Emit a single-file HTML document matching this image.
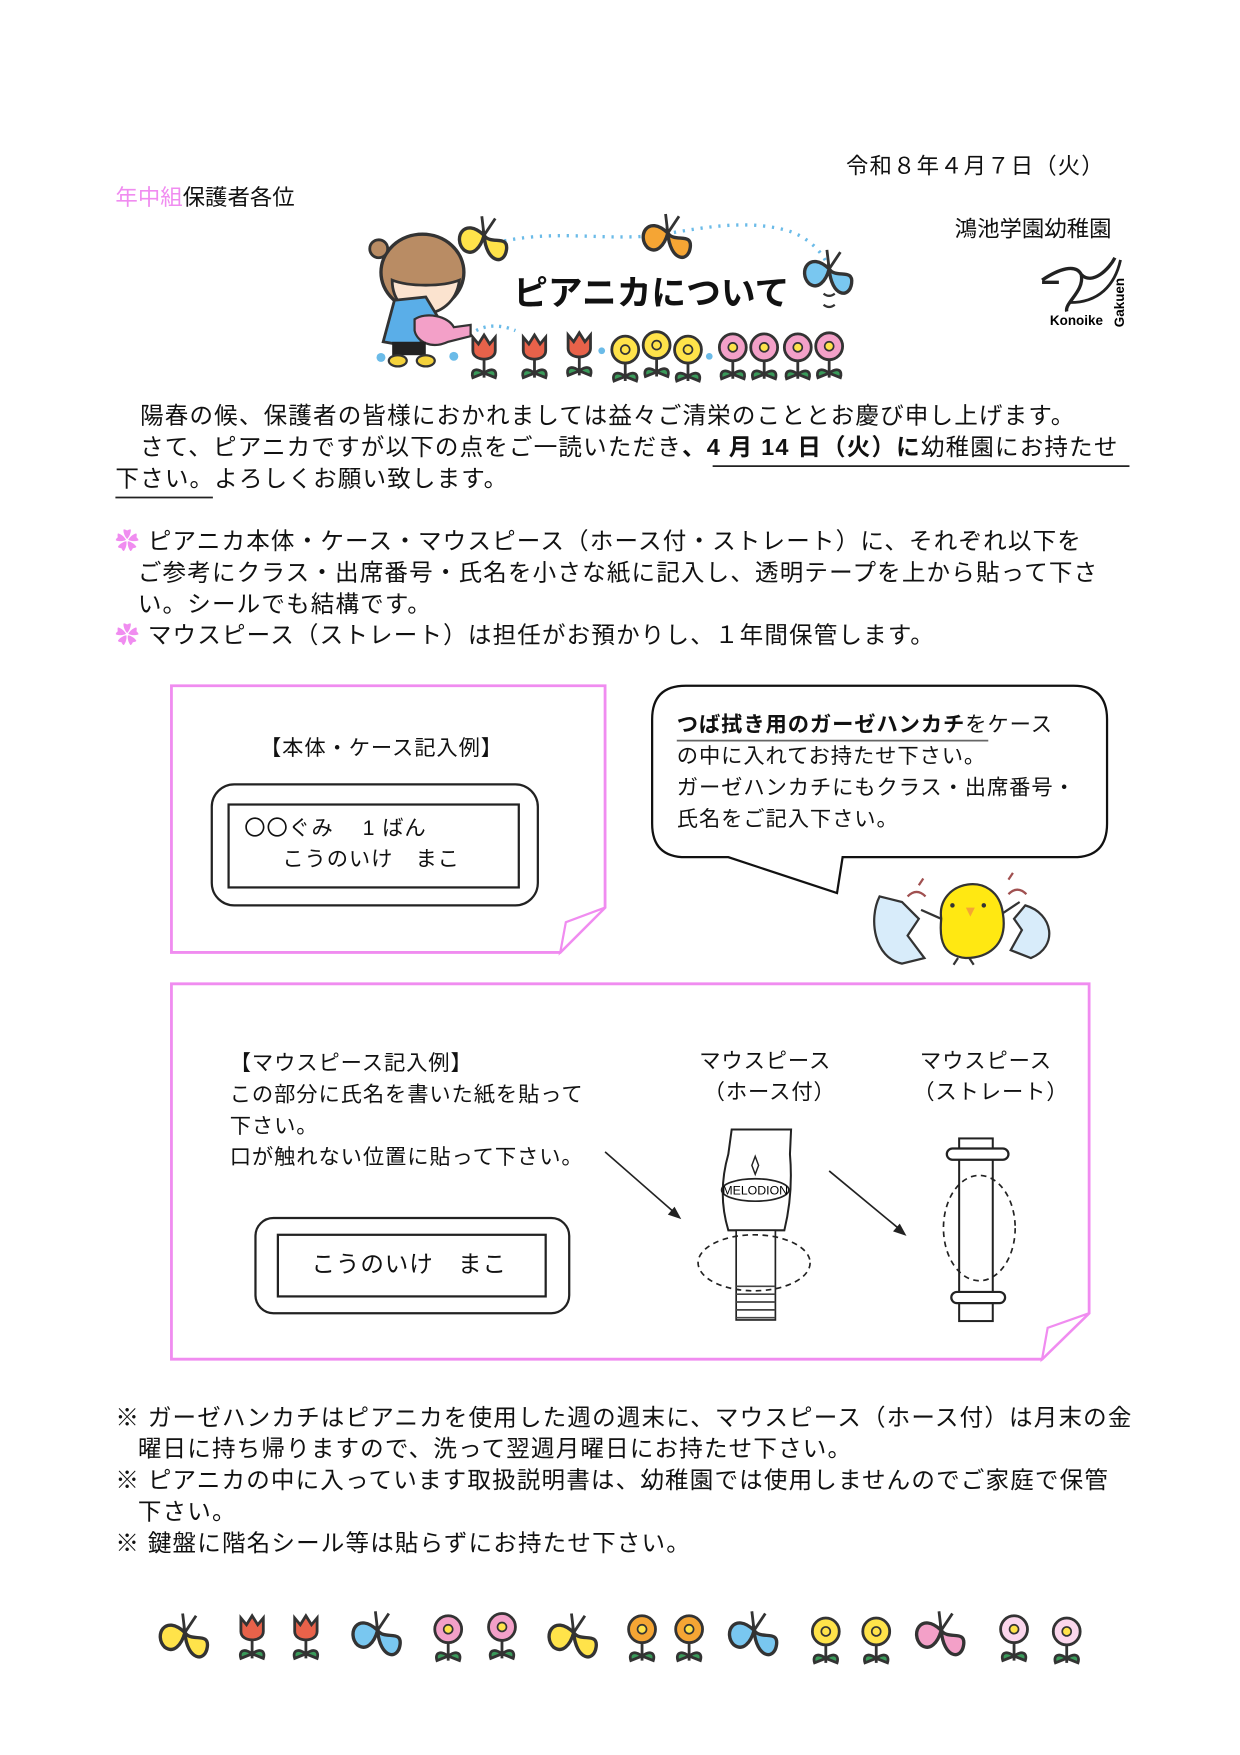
<!DOCTYPE html>
<html><head><meta charset="utf-8"><style>
html,body{margin:0;padding:0;background:#fff;}
#w{position:relative;width:1240px;height:1755px;overflow:hidden;}
#p{position:absolute;left:0;top:0;width:1100px;height:1557px;transform:scale(1.1205);transform-origin:0 0;font-family:"Liberation Sans","Noto Sans CJK JP",sans-serif;color:#111;}
.t{position:absolute;white-space:nowrap;font-size:21px;letter-spacing:1.05px;line-height:28px;}
.s{font-size:19px;letter-spacing:0.8px;}
svg{position:absolute;left:0;top:0;}
</style></head><body><div id="w"><div id="p">
<svg width="1100" height="1557" viewBox="0 0 1100 1557">
<defs>
<g id="bf"><path d="M0,-5 C-18,-22 -28,-2 -18,8 C-10,14 -3,6 0,-5 Z M0,-5 C6,4 22,-6 20,8 C18,22 2,20 0,-5Z" stroke="#333" stroke-width="3"/><path d="M0,-5 L-2,-22 M0,-5 L10,-20" stroke="#333" stroke-width="2.5" fill="none"/></g>
<g id="tu"><path d="M0,4 L0,22 M0,18 C-8,12 -12,16 -10,22 Z M0,18 C8,12 12,16 10,22Z" stroke="#333" stroke-width="2.5" fill="#3a9a5a"/><path d="M-10,-14 L-5,-8 L0,-16 L5,-8 L10,-14 L10,-2 C10,8 -10,8 -10,-2Z" fill="#e8624a" stroke="#333" stroke-width="2.5"/></g>
<g id="fl"><path d="M0,4 L0,22 M0,18 C-8,12 -12,16 -10,22 Z M0,18 C8,12 12,16 10,22Z" stroke="#333" stroke-width="2.5" fill="#3a9a5a"/><circle r="12" stroke="#333" stroke-width="2.5" cy="-6"/><circle r="4" cy="-6" fill="#ffe34a" stroke="#333" stroke-width="1.5"/></g>
</defs>
<path d="M450,215 C500,205 540,215 585,210 C620,205 660,195 700,205 C720,210 735,225 740,240" stroke="#6bbbe8" stroke-width="3" stroke-dasharray="2 6" fill="none"/>
<use href="#bf" x="432" y="215" fill="#ffe34a"/>
<use href="#bf" x="596" y="213" fill="#f5a534"/>
<use href="#bf" x="740" y="245" fill="#79c7f0"/>
<path d="M735,262 q5,4 10,0 M735,272 q5,4 10,0" stroke="#333" stroke-width="2" fill="none"/>
<ellipse cx="377" cy="243" rx="37" ry="34" fill="#b98c64" stroke="#333" stroke-width="3"/>
<circle cx="338" cy="222" r="8" fill="#b98c64" stroke="#333" stroke-width="2.5"/>
<path d="M350,250 C350,290 405,290 410,250 C395,256 365,256 350,250Z" fill="#fbe3cf" stroke="#333" stroke-width="2.5"/>
<path d="M352,268 L342,305 L370,310 L395,290 L380,265Z" fill="#5aaee8" stroke="#333" stroke-width="2.5"/>
<path d="M370,285 C380,278 400,282 405,292 L420,290 L420,300 L400,305 C385,312 372,305 370,295Z" fill="#f3a0c8" stroke="#333" stroke-width="2"/>
<rect x="350" y="305" width="30" height="12" fill="#222"/>
<ellipse cx="355" cy="322" rx="8" ry="5" fill="#f4d23c" stroke="#333" stroke-width="2"/><ellipse cx="380" cy="322" rx="8" ry="5" fill="#f4d23c" stroke="#333" stroke-width="2"/>
<path d="M425,295 q15,-8 35,0" stroke="#6bbbe8" stroke-width="3" stroke-dasharray="2 5" fill="none"/>
<circle cx="340" cy="319" r="4" fill="#6bbbe8"/><circle cx="405" cy="318" r="4" fill="#6bbbe8"/><circle cx="537" cy="313" r="3" fill="#6bbbe8"/><circle cx="633" cy="318" r="3" fill="#6bbbe8"/>
<use href="#tu" x="432" y="315"/><use href="#tu" x="477" y="315"/><use href="#tu" x="517" y="313"/>
<use href="#fl" x="558" y="318" fill="#ffe34a"/><use href="#fl" x="586" y="314" fill="#ffe34a"/><use href="#fl" x="614" y="318" fill="#ffe34a"/>
<use href="#fl" x="654" y="316" fill="#f3a0c8"/><use href="#fl" x="682" y="316" fill="#f3a0c8"/><use href="#fl" x="712" y="316" fill="#f3a0c8"/><use href="#fl" x="740" y="315" fill="#f3a0c8"/>
<path d="M930,250 C945,240 960,235 965,245 C968,260 950,270 952,278 M965,245 C975,255 990,240 995,230 M930,252 L945,252" stroke="#222" stroke-width="3" fill="none"/>
<path d="M955,270 C980,270 995,255 1000,232" stroke="#222" stroke-width="2.5" fill="none"/>
<text x="937" y="290" font-size="12" font-weight="bold" font-family="Liberation Sans">Konoike</text>
<text x="1003" y="292" font-size="12" font-weight="bold" font-family="Liberation Sans" transform="rotate(-90 1003 292)">Gakuen</text>
<line x1="636" y1="416" x2="1008" y2="416" stroke="#222" stroke-width="1.5"/>
<line x1="103" y1="444" x2="190" y2="444" stroke="#222" stroke-width="1.5"/>
<path d="M153,612 L540,612 L540,810 L500,850 L153,850Z" fill="none" stroke="#f08cf0" stroke-width="2.5"/>
<path d="M540,810 L505,823 L500,850Z" fill="#fff" stroke="#f08cf0" stroke-width="2"/>
<rect x="189" y="700" width="291" height="108" rx="20" fill="none" stroke="#222" stroke-width="2"/>
<rect x="204" y="718" width="259" height="74" fill="none" stroke="#222" stroke-width="2"/>
<path d="M612,612 L958,612 Q988,612 988,642 L988,735 Q988,765 958,765 L752,765 L747,797 L650,765 L612,765 Q582,765 582,735 L582,642 Q582,612 612,612Z" fill="#fff" stroke="#111" stroke-width="2"/>
<line x1="604" y1="661" x2="882" y2="661" stroke="#666" stroke-width="1.5"/>
<path d="M785,800 C775,820 780,855 805,860 L825,855 L810,835 L820,820 L805,805Z" fill="#d8ecfa" stroke="#333" stroke-width="2"/>
<path d="M915,808 C940,815 945,845 920,855 L902,848 L912,830 L905,820Z" fill="#d8ecfa" stroke="#333" stroke-width="2"/>
<path d="M840,820 C835,785 890,775 895,815 C900,845 880,855 862,855 C842,853 838,840 840,820Z" fill="#ffe812" stroke="#333" stroke-width="2"/>
<path d="M840,820 L822,812 M895,815 L910,805" stroke="#333" stroke-width="2"/>
<path d="M855,855 l-4,6 M865,855 l4,6" stroke="#333" stroke-width="2"/>
<circle cx="850" cy="808" r="2" fill="#333"/><circle cx="878" cy="808" r="2" fill="#333"/><path d="M862,810 l4,8 l4,-8Z" fill="#f5a534"/>
<path d="M810,800 q8,-8 16,0 M900,798 q8,-8 16,0 M820,790 l4,-6 M900,785 l4,-6" stroke="#a05050" stroke-width="2" fill="none"/>
<path d="M153,878 L972,878 L972,1172 L930,1213 L153,1213Z" fill="none" stroke="#f08cf0" stroke-width="2.5"/>
<path d="M972,1172 L935,1185 L930,1213Z" fill="#fff" stroke="#f08cf0" stroke-width="2"/>
<rect x="228" y="1087" width="280" height="85" rx="16" fill="none" stroke="#222" stroke-width="2"/>
<rect x="248" y="1102" width="239" height="55" fill="none" stroke="#222" stroke-width="2"/>
<line x1="540" y1="1028" x2="604" y2="1084" stroke="#222" stroke-width="1.5"/><path d="M608,1088 l-12,-4 l6,-7Z" fill="#222"/>
<line x1="740" y1="1045" x2="804" y2="1098" stroke="#222" stroke-width="1.5"/><path d="M809,1103 l-12,-4 l6,-7Z" fill="#222"/>
<path d="M653,1008 L706,1008 L705,1030 Q708,1065 700,1098 L650,1098 Q640,1065 650,1030Z" fill="#fff" stroke="#222" stroke-width="1.8"/>
<ellipse cx="674" cy="1062" rx="30" ry="10" fill="none" stroke="#222" stroke-width="1.5"/>
<text x="674" y="1066" font-size="11" text-anchor="middle" font-family="Liberation Sans">MELODION</text>
<path d="M674,1032 l3,8 l-3,8 l-3,-8Z" fill="none" stroke="#222" stroke-width="1.3"/>
<rect x="657" y="1098" width="35" height="80" fill="#fff" stroke="#222" stroke-width="1.5"/>
<path d="M657,1148 h35 M657,1155 h35 M657,1162 h35 M657,1169 h35 M657,1176 h35" stroke="#444" stroke-width="1.5"/>
<ellipse cx="673" cy="1127" rx="50" ry="25" fill="none" stroke="#222" stroke-width="1.5" stroke-dasharray="5 4"/>
<rect x="856" y="1016" width="30" height="163" fill="#fff" stroke="#222" stroke-width="1.8"/>
<rect x="845" y="1025" width="55" height="10" rx="5" fill="#fff" stroke="#222" stroke-width="2"/>
<rect x="849" y="1153" width="48" height="10" rx="5" fill="#fff" stroke="#222" stroke-width="2"/>
<ellipse cx="874" cy="1096" rx="32" ry="47" fill="none" stroke="#222" stroke-width="1.5" stroke-dasharray="5 4"/>
<use href="#bf" x="165" y="1462" fill="#ffe34a"/>
<use href="#tu" x="225" y="1458"/><use href="#tu" x="273" y="1458"/>
<use href="#bf" x="337" y="1460" fill="#79c7f0"/>
<use href="#fl" x="400" y="1460" fill="#f3a0c8"/><use href="#fl" x="448" y="1458" fill="#f3a0c8"/>
<use href="#bf" x="512" y="1462" fill="#ffe34a"/>
<use href="#fl" x="573" y="1460" fill="#f5a534"/><use href="#fl" x="615" y="1460" fill="#f5a534"/>
<use href="#bf" x="673" y="1460" fill="#79c7f0"/>
<use href="#fl" x="737" y="1462" fill="#ffe34a"/><use href="#fl" x="782" y="1462" fill="#ffe34a"/>
<use href="#bf" x="840" y="1460" fill="#f3a0c8"/>
<use href="#fl" x="905" y="1460" fill="#fbd6ec"/><use href="#fl" x="952" y="1462" fill="#fbd6ec"/>
</svg>

<div class="t" style="left:755px;top:135px;font-size:20px;letter-spacing:1px;">令和８年４月７日（火）</div>
<div class="t" style="left:103px;top:163px;font-size:20px;letter-spacing:0;"><span style="color:#f08cf0">年中組</span>保護者各位</div>
<div class="t" style="left:852px;top:191px;font-size:20px;letter-spacing:0;">鴻池学園幼稚園</div>
<div class="t" style="left:458px;top:242px;font-size:31px;font-weight:bold;letter-spacing:0;line-height:40px;">ピアニカについて</div>

<div class="t" style="left:125px;top:358px;">陽春の候、保護者の皆様におかれましては益々ご清栄のこととお慶び申し上げます。</div>
<div class="t" style="left:125px;top:386px;">さて、ピアニカですが以下の点をご一読いただき<b>、4 月 14 日（火）に</b>幼稚園にお持たせ</div>
<div class="t" style="left:103px;top:414px;">下さい。よろしくお願い致します。</div>

<div class="t" style="left:103px;top:470px;"><span style="color:#f08cf0">✿</span> ピアニカ本体・ケース・マウスピース（ホース付・ストレート）に、それぞれ以下を</div>
<div class="t" style="left:123px;top:498px;">ご参考にクラス・出席番号・氏名を小さな紙に記入し、透明テープを上から貼って下さ</div>
<div class="t" style="left:123px;top:526px;">い。シールでも結構です。</div>
<div class="t" style="left:103px;top:554px;"><span style="color:#f08cf0">✿</span> マウスピース（ストレート）は担任がお預かりし、１年間保管します。</div>

<div class="t s" style="left:232px;top:655px;">【本体・ケース記入例】</div>
<div class="t s" style="left:218px;top:726px;">〇〇ぐみ　 1 ばん</div>
<div class="t s" style="left:252px;top:754px;">こうのいけ　まこ</div>

<div class="t s" style="left:604px;top:634px;"><b>つば拭き用のガーゼハンカチ</b>をケース</div>
<div class="t s" style="left:604px;top:662px;">の中に入れてお持たせ下さい。</div>
<div class="t s" style="left:604px;top:690px;">ガーゼハンカチにもクラス・出席番号・</div>
<div class="t s" style="left:604px;top:718px;">氏名をご記入下さい。</div>

<div class="t s" style="left:205px;top:936px;">【マウスピース記入例】</div>
<div class="t s" style="left:205px;top:964px;">この部分に氏名を書いた紙を貼って</div>
<div class="t s" style="left:205px;top:992px;">下さい。</div>
<div class="t s" style="left:205px;top:1020px;">口が触れない位置に貼って下さい。</div>
<div class="t s" style="left:624px;top:934px;">マウスピース</div>
<div class="t s" style="left:628px;top:962px;">（ホース付）</div>
<div class="t s" style="left:821px;top:934px;">マウスピース</div>
<div class="t s" style="left:815px;top:962px;">（ストレート）</div>
<div class="t s" style="left:278px;top:1115px;font-size:21px;">こうのいけ　まこ</div>

<div class="t" style="left:103px;top:1252px;">※ ガーゼハンカチはピアニカを使用した週の週末に、マウスピース（ホース付）は月末の金</div>
<div class="t" style="left:123px;top:1280px;">曜日に持ち帰りますので、洗って翌週月曜日にお持たせ下さい。</div>
<div class="t" style="left:103px;top:1308px;">※ ピアニカの中に入っています取扱説明書は、幼稚園では使用しませんのでご家庭で保管</div>
<div class="t" style="left:123px;top:1336px;">下さい。</div>
<div class="t" style="left:103px;top:1364px;">※ 鍵盤に階名シール等は貼らずにお持たせ下さい。</div>
</div></div></body></html>
